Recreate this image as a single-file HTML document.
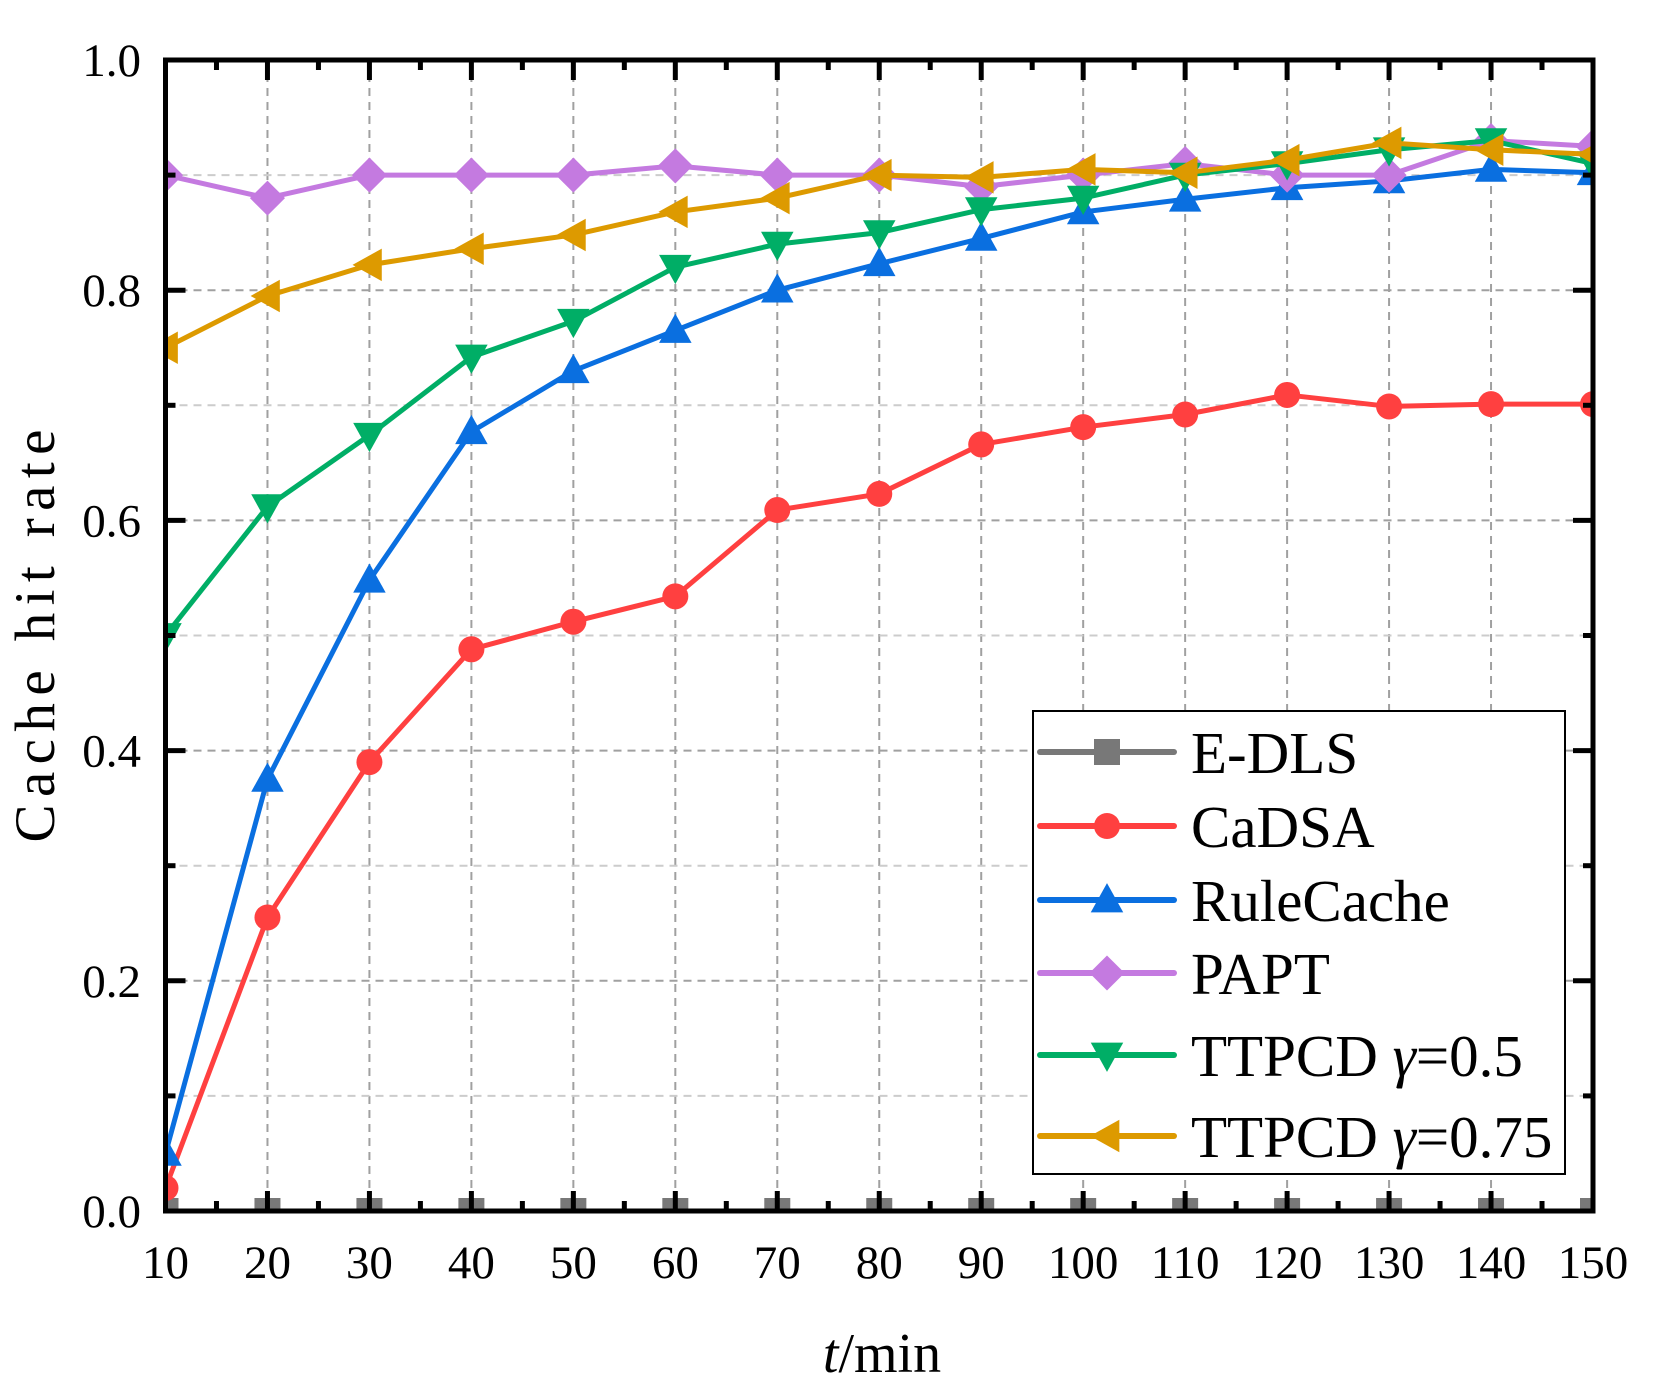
<!DOCTYPE html>
<html><head><meta charset="utf-8"><style>
html,body{margin:0;padding:0;background:#fff;}
svg{display:block;font-family:"Liberation Serif",serif;}
</style></head><body>
<svg id="chart" width="1655" height="1393" viewBox="0 0 1655 1393" xmlns="http://www.w3.org/2000/svg">
<defs><clipPath id="plotclip"><rect x="165.5" y="60" width="1427.5" height="1151"/></clipPath></defs>
<g id="grid"></g>
<g id="series" clip-path="url(#plotclip)"></g>
<g id="axes"></g>
<text transform="translate(54,636) rotate(-90)" text-anchor="middle" font-size="57" textLength="413" lengthAdjust="spacing">Cache hit rate</text>
<text x="882" y="1372" text-anchor="middle" font-size="56"><tspan font-style="italic">t</tspan>/min</text>
<g id="legend"></g>
</svg>
<script>
const xCats=[10,20,30,40,50,60,70,80,90,100,110,120,130,140,150];
const yTicks=[0,0.2,0.4,0.6,0.8,1.0];
const yTickLabels=["0.0","0.2","0.4","0.6","0.8","1.0"];
const sEDLS=[0,0,0,0,0,0,0,0,0,0,0,0,0,0,0];
const sCaDSA=[0.02,0.255,0.39,0.488,0.512,0.534,0.609,0.623,0.666,0.681,0.692,0.709,0.699,0.701,0.701];
const sRule=[0.05,0.375,0.548,0.677,0.73,0.765,0.8,0.823,0.845,0.868,0.879,0.889,0.895,0.905,0.902];
const sPAPT=[0.9,0.88,0.9,0.9,0.9,0.908,0.9,0.9,0.89,0.9,0.91,0.9,0.9,0.93,0.925];
const sT05=[0.5,0.612,0.674,0.742,0.773,0.82,0.84,0.85,0.87,0.88,0.9,0.91,0.922,0.93,0.91];
const sT075=[0.75,0.795,0.822,0.836,0.848,0.868,0.88,0.9,0.898,0.905,0.902,0.913,0.928,0.922,0.918];
const seriesNames=["E-DLS","CaDSA","RuleCache","PAPT","TTPCD γ=0.5","TTPCD γ=0.75"];

const L=165.5,R=1593,T=60,B=1211;
const X=v=>L+(v-10)/140*(R-L);
const Y=v=>B-v*(B-T);
const NS="http://www.w3.org/2000/svg";
function mk(tag,attrs,parent){const e=document.createElementNS(NS,tag);for(const k in attrs)e.setAttribute(k,attrs[k]);parent.appendChild(e);return e;}
const grid=document.getElementById('grid'),axes=document.getElementById('axes'),ser=document.getElementById('series'),leg=document.getElementById('legend');

for(const v of xCats){ if(v===10||v===150)continue;
 const g=mk('line',{x1:X(v),x2:X(v),y1:T,y2:B,stroke:'#a0a0a0','stroke-width':2,'stroke-dasharray':'8 6'},grid);
 
 
}
for(let i=1;i<10;i++){const v=i/10;
 const g=mk('line',{x1:L,x2:R,y1:Y(v),y2:Y(v),stroke:i%2?'#cccccc':'#a0a0a0','stroke-width':2,'stroke-dasharray':'8 6'},grid);
 
 
}
const colors=['#787878','#ff4040','#0a6fe0','#c47ae0','#00ae66','#dd9a00'];
const data=[sEDLS,sCaDSA,sRule,sPAPT,sT05,sT075];
const shapes=['square','circle','up','diamond','down','left'];
function marker(shape,x,y,c,p,s){
 s=s||13; let e;
 if(shape==='square')e=mk('rect',{x:x-s,y:y-s,width:2*s,height:2*s,fill:c},p);
 else if(shape==='circle')e=mk('circle',{cx:x,cy:y,r:s,fill:c},p);
 else{let pts;
  if(shape==='up')pts=[[x,y-s*1.3],[x+s*1.25,y+s*0.95],[x-s*1.25,y+s*0.95]];
  if(shape==='down')pts=[[x,y+s*1.3],[x+s*1.25,y-s*0.95],[x-s*1.25,y-s*0.95]];
  if(shape==='left')pts=[[x-s*1.3,y],[x+s*0.95,y-s*1.25],[x+s*0.95,y+s*1.25]];
  if(shape==='diamond')pts=[[x,y-s*1.35],[x+s*1.35,y],[x,y+s*1.35],[x-s*1.35,y]];
  e=mk('polygon',{points:pts.map(q=>q.join(',')).join(' '),fill:c},p);}
 return e;
}
data.forEach((arr,si)=>{
 const g=mk('g',{},ser);
 
 
 const pl=mk('polyline',{points:arr.map((v,i)=>X(xCats[i])+','+Y(v)).join(' '),fill:'none',stroke:colors[si],'stroke-width':5,'stroke-linejoin':'round'},g);
 
 
 arr.forEach((v,i)=>{const m=marker(shapes[si],X(xCats[i]),Y(v),colors[si],g);
  
  });
});
const fr=mk('rect',{x:L,y:T,width:R-L,height:B-T,fill:'none',stroke:'#000','stroke-width':5},axes);


for(let v=10;v<=150;v+=5){const maj=v%10===0;const len=maj?20:10;
 mk('line',{x1:X(v),x2:X(v),y1:B,y2:B-len,stroke:'#000','stroke-width':5},axes);
 mk('line',{x1:X(v),x2:X(v),y1:T,y2:T+len,stroke:'#000','stroke-width':5},axes);
}
xCats.forEach(v=>{const t=mk('text',{x:X(v),y:1278,'text-anchor':'middle','font-size':47},axes);t.textContent=v;
 
 });
for(let i=0;i<=10;i++){const v=i/10;const len=i%2===0?20:10;
 mk('line',{x1:L,x2:L+len,y1:Y(v),y2:Y(v),stroke:'#000','stroke-width':5},axes);
 mk('line',{x1:R,x2:R-len,y1:Y(v),y2:Y(v),stroke:'#000','stroke-width':5},axes);
}
yTicks.forEach((v,i)=>{const t=mk('text',{x:141,y:Y(v)+16,'text-anchor':'end','font-size':47},axes);t.textContent=yTickLabels[i];
 
 });
const lb=mk('rect',{x:1033,y:711,width:532,height:463,fill:'#fff',stroke:'#000','stroke-width':2},leg);


const ly=[752,826,900,973,1055,1136];
seriesNames.forEach((n,i)=>{const g=mk('g',{},leg);
 
 
 mk('line',{x1:1040,x2:1174,y1:ly[i],y2:ly[i],stroke:colors[i],'stroke-width':6,'stroke-linecap':'round'},g);
 marker(shapes[i],1107,ly[i],colors[i],g,13);
 const t=mk('text',{x:1191,y:ly[i]+21,'font-size':59},g);
 if(i<4)t.textContent=n;
 else{const parts=['TTPCD ','γ','='+(i===4?'0.5':'0.75')];
  const a=mk('tspan',{},t);a.textContent=parts[0];
  const b=mk('tspan',{'font-style':'italic'},t);b.textContent=parts[1];
  const c=mk('tspan',{},t);c.textContent=parts[2];}
});
</script>
</body></html>
